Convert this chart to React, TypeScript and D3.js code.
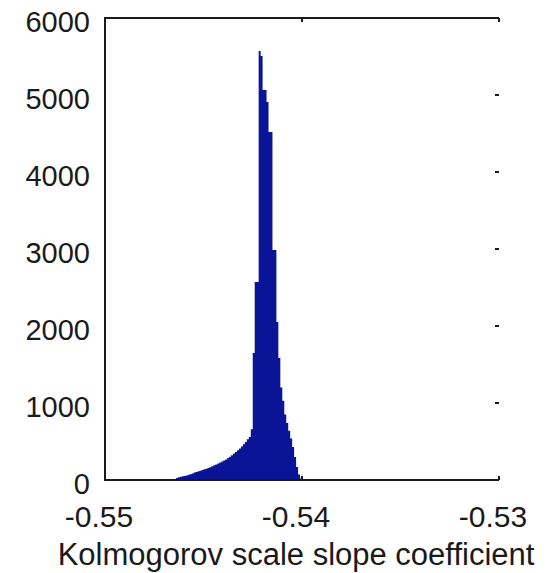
import React, { useEffect, useRef } from 'react';
import * as d3 from 'd3';

// histogram bins: left edge of first bin and bin width
const binStart = -0.5464;
const binWidth = 0.0001;

// counts per bin
const counts = [
  26, 35, 43, 48, 52, 58, 68, 75, 84, 97,
  104, 113, 119, 130, 138, 147, 156, 166, 179, 191,
  201, 214, 226, 239, 253, 266, 286, 303, 322, 344,
  364, 386, 409, 435, 464, 494, 529, 560, 660, 1650,
  2570, 2570, 5571, 5506, 5065, 5065, 4909, 4519, 4519, 2987,
  2987, 2052, 1584, 1200, 1030, 850, 740, 640, 540, 430,
  300, 170, 70, 20,
];

const xTicks = [-0.55, -0.54, -0.53];
const xTickLabels = ['-0.55', '-0.54', '-0.53'];
const yTicks = [0, 1000, 2000, 3000, 4000, 5000, 6000];
const yTickLabels = ['0', '1000', '2000', '3000', '4000', '5000', '6000'];
const xLabel = 'Kolmogorov scale slope coefficient';

const App = () => {
  const svgRef = useRef(null);

  useEffect(() => {
    const width = 560;
    const height = 573;
    const left = 105, right = 499, top = 18, bottom = 480;
    const ink = '#1a1a1a';
    const font = '"Liberation Sans", Arial, sans-serif';

    const svg = d3.select(svgRef.current);
    svg.selectAll('*').remove();
    svg.attr('width', width).attr('height', height);

    svg.append('rect').attr('width', width).attr('height', height).attr('fill', '#fff');

    const x = d3.scaleLinear().domain([-0.55, -0.53]).range([left, right]);
    const y = d3.scaleLinear().domain([0, 6000]).range([bottom, top]);

    // step outline of the histogram
    const pts = counts.map((c, i) => ({ v: binStart + i * binWidth, c }));
    pts.push({ v: binStart + counts.length * binWidth, c: 0 });

    const area = d3.area()
      .x(d => x(d.v))
      .y0(y(0))
      .y1(d => y(d.c))
      .curve(d3.curveStepAfter);

    svg.append('path')
      .datum(pts)
      .attr('d', area)
      .attr('fill', '#0a1496');

    // axes lines (left, top, bottom; no right line)
    const axes = svg.append('g').attr('stroke', ink).attr('stroke-width', 2).attr('fill', 'none');
    axes.append('line').attr('x1', left).attr('x2', left).attr('y1', top - 1).attr('y2', bottom + 1);
    axes.append('line').attr('x1', left).attr('x2', right).attr('y1', top).attr('y2', top);
    axes.append('line').attr('x1', left).attr('x2', right).attr('y1', bottom).attr('y2', bottom);

    // inward ticks on right and top/bottom
    yTicks.forEach(t => {
      axes.append('line').attr('x1', right - 4).attr('x2', right).attr('y1', y(t)).attr('y2', y(t));
    });
    xTicks.forEach(t => {
      axes.append('line').attr('x1', x(t)).attr('x2', x(t)).attr('y1', top).attr('y2', top + 4);
      axes.append('line').attr('x1', x(t)).attr('x2', x(t)).attr('y1', bottom).attr('y2', bottom - 4);
    });

    // y tick labels
    svg.append('g')
      .selectAll('text')
      .data(yTicks)
      .enter().append('text')
      .attr('x', 90)
      .attr('y', d => y(d) + 14)
      .attr('text-anchor', 'end')
      .attr('font-family', font)
      .attr('font-size', 29)
      .attr('fill', ink)
      .text((d, i) => yTickLabels[i]);

    // x tick labels
    svg.append('g')
      .selectAll('text')
      .data(xTicks)
      .enter().append('text')
      .attr('x', d => x(d) - 6)
      .attr('y', 527)
      .attr('text-anchor', 'middle')
      .attr('font-family', font)
      .attr('font-size', 30)
      .attr('fill', ink)
      .text((d, i) => xTickLabels[i]);

    svg.append('text')
      .attr('x', 296)
      .attr('y', 565)
      .attr('text-anchor', 'middle')
      .attr('font-family', font)
      .attr('font-size', 31)
      .attr('fill', ink)
      .text(xLabel);
  }, []);

  return (
    <svg ref={svgRef} style={{ position: 'absolute', left: 0, top: 0, display: 'block' }}></svg>
  );
};

export default App;
